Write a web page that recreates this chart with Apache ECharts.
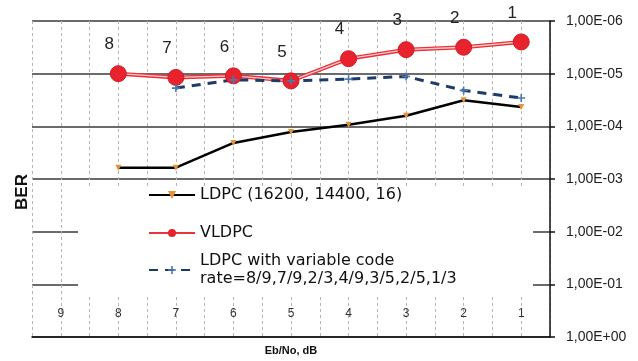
<!DOCTYPE html>
<html>
<head>
<meta charset="utf-8">
<script src="https://cdn.jsdelivr.net/npm/echarts@6/dist/echarts.min.js"></script>
<style>
  html, body { margin: 0; padding: 0; background: #fff; }
  #ber-chart { width: 638px; height: 361px; }
</style>
</head>
<body>
<div id="ber-chart"></div>
<script>
// Eb/No steps, read left to right
const categories = ['9', '8', '7', '6', '5', '4', '3', '2', '1'];
// BER values ('-' = no point)
const ldpcFixed = ['-', 6.1e-4, 6.1e-4, 2.07e-4, 1.28e-4, 9.3e-5, 6.3e-5, 3.2e-5, 4.3e-5];
const vldpc = ['-', 1.0e-5, 1.18e-5, 1.1e-5, 1.37e-5, 5.2e-6, 3.5e-6, 3.15e-6, 2.5e-6];
const ldpcVariable = ['-', '-', 1.88e-5, 1.31e-5, 1.37e-5, 1.27e-5, 1.13e-5, 2.08e-5, 2.9e-5];

const nameFixed = 'LDPC (16200, 14400, 16)';
const nameV = 'VLDPC';
const nameVar = 'LDPC with variable code\nrate=8/9,7/9,2/3,4/9,3/5,2/5,1/3';

const font = 'Liberation Sans';
const legendFont = 'DejaVu Sans';

function fmtExp(v) {
  const e = Math.round(Math.log10(v));
  const s = e < 0 ? '-' : '+';
  const a = Math.abs(e);
  return '1,00E' + s + (a < 10 ? '0' + a : a);
}

// half-step ticks for the dashed vertical grid
const halfSteps = [];
categories.forEach(c => { halfSteps.push(''); halfSteps.push(''); });

let chartDom = document.getElementById('ber-chart');
let myChart = echarts.init(chartDom);

let option = {
  animation: false,
  grid: { left: 32, right: 88, top: 21, bottom: 23 },
  graphic: [
    {
      type: 'rect', z: 3, silent: true,
      shape: { x: 78, y: 187, width: 455, height: 110 },
      style: { fill: '#fff' }
    },
    {
      type: 'text', x: 22, y: 192, rotation: Math.PI / 2, z: 5,
      style: {
        text: 'BER', align: 'center', verticalAlign: 'middle',
        font: 'bold 17px "' + font + '"', fill: '#111'
      }
    }
  ],
  legend: [
    {
      data: [nameFixed, nameV],
      orient: 'vertical',
      left: 148, top: 186,
      padding: 0,
      itemGap: 20,
      itemWidth: 46, itemHeight: 10,
      textStyle: { fontFamily: legendFont, fontSize: 16, color: '#111', lineHeight: 18 }
    },
    {
      data: [nameVar],
      orient: 'vertical',
      left: 148, top: 243,
      padding: 0,
      itemWidth: 46, itemHeight: 10,
      textStyle: { fontFamily: legendFont, fontSize: 16, color: '#111', lineHeight: 18, padding: [18, 0, 0, 0] }
    }
  ],
  xAxis: [
    {
      type: 'category',
      data: categories,
      boundaryGap: true,
      name: 'Eb/No, dB',
      nameLocation: 'middle',
      nameGap: 8,
      nameTextStyle: { fontFamily: font, fontSize: 11, fontWeight: 'bold', color: '#111' },
      axisLine: { lineStyle: { color: '#111', width: 1.5 } },
      axisTick: { inside: true, length: 5, lineStyle: { color: '#111', width: 1.5 } },
      axisLabel: { inside: true, margin: 17, fontFamily: font, fontSize: 12, color: '#333' },
      splitLine: { show: false }
    },
    {
      type: 'category',
      data: halfSteps,
      boundaryGap: true,
      position: 'bottom',
      axisLine: { show: false },
      axisTick: { show: false },
      axisLabel: { show: false },
      splitLine: { show: true, lineStyle: { color: '#b5b5b5', type: [3, 3], width: 1 } }
    }
  ],
  yAxis: {
    type: 'log',
    logBase: 10,
    min: 1e-6,
    max: 1,
    inverse: true,
    position: 'right',
    axisLine: { show: true, lineStyle: { color: '#111', width: 1.5 } },
    axisTick: { show: true, length: 5, lineStyle: { color: '#111', width: 1.5 } },
    axisLabel: { margin: 16, fontFamily: font, fontSize: 14, color: '#222', formatter: fmtExp },
    splitLine: { show: true, lineStyle: { color: '#3a3a3a', width: 1.5 } }
  },
  series: [
    {
      name: nameFixed,
      type: 'line',
      data: ldpcFixed,
      symbol: 'triangle',
      symbolRotate: 180,
      symbolSize: 6,
      itemStyle: { color: '#e39236' },
      lineStyle: { color: '#000', width: 2.5 }
    },
    {
      name: nameV,
      type: 'line',
      data: vldpc,
      showSymbol: false,
      symbol: 'circle',
      symbolSize: 16,
      itemStyle: { color: '#e8232d' },
      lineStyle: { color: '#e8333b', width: 4 }
    },
    {
      // inner pale stroke + markers + step labels for VLDPC
      name: 'vldpc-inner',
      type: 'line',
      data: vldpc,
      z: 3,
      symbol: 'circle',
      symbolSize: 16,
      itemStyle: { color: '#e8232d', borderColor: '#d01c25', borderWidth: 1 },
      lineStyle: { color: '#f9caca', width: 1.3 },
      label: {
        show: true, position: 'top', distance: 12, offset: [-9, 0],
        formatter: '{b}', fontFamily: font, fontSize: 17, color: '#222'
      }
    },
    {
      name: nameVar,
      type: 'line',
      data: ldpcVariable,
      symbol: 'path://M4,0H6V4H10V6H6V10H4V6H0V4H4Z',
      symbolSize: 8,
      itemStyle: { color: '#4a78b0' },
      lineStyle: { color: '#1c3b6b', width: 3, type: [9, 7] }
    }
  ]
};

option && myChart.setOption(option);
</script>
</body>
</html>
